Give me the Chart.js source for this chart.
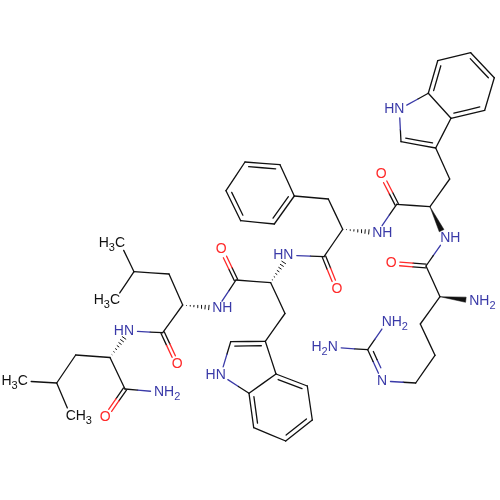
<!DOCTYPE html>
<html>
<head>
<meta charset="utf-8">
<style>
  html, body { margin: 0; padding: 0; background: #fff; }
  #mol { display: block; }
</style>
<script src="https://cdn.jsdelivr.net/npm/chart.js@4"></script>
</head>
<body>
<canvas id="mol" width="500" height="500"></canvas>
<script>
// atoms
const atomX = [428.3,437.7,470.7,494.3,484.7,451,435.7,401,399.3,449.7,430,396.7,381.3,377.3,445.3,426,391.3,440,474.3,420.3,435,415.7,382,367.7,386.7,332.7,
  245,280,294.3,274.3,240.7,226,328.3,342.7,324,337,288.3,
  270.7,236,221.3,217.3,285,265.3,230.7,220.7,249,276,307.3,312.3,285.7,253.7,
  182.7,169,134,120,115,162.7,177.3,129,
  110,75.7,56.7,22.7,70.7,125,105.3,159];
const atomY = [93.3,60.7,52.7,77.7,110.3,118.3,148,141.7,109.3,179,206.7,204.3,174.3,232.7,238.3,266,263.3,296.7,300.7,324,355.3,383,381,349.7,322,347.3,
  162,164.7,196,224,220.7,190.7,199,229.3,256.7,288.7,255.3,
  282.7,280,249.3,308.3,313.5,341.3,341.7,375,393.3,374,386,420,441,427.7,
  305,274,271.7,242.7,300,332.7,364.3,331,
  357.5,355,383,381,415.7,389,417.3,392];
const atomLabel = {8:'HN',12:'O',13:'NH',14:'NH',16:'O',18:'NH2',22:'N',24:'NH2',25:'H2N',
  35:'O',36:'HN',39:'O',40:'NH',44:'HN',54:'H3C',55:'H3C',57:'O',58:'HN',62:'H3C',63:'CH3',65:'O',66:'NH2'};

// bonds: from, to, kind (s single, d double, w wedge, h hash)
const bondFrom = [0,1,2,3,4,5,5,0,7,6,6,9,10,11,11,10,14,15,15,17,17,19,20,21,22,23,23,
  26,27,28,29,30,31,28,32,33,33,34,34,37,
  37,38,38,37,41,42,42,43,44,45,45,46,47,48,49,
  51,51,52,53,53,51,56,56,59,59,60,61,61,59,64,64];
const bondTo = [1,2,3,4,5,0,6,8,8,7,9,10,11,12,13,14,15,16,17,18,19,20,21,22,23,24,25,
  27,28,29,30,31,26,32,33,34,13,35,36,36,
  38,39,40,41,42,43,46,44,45,46,50,47,48,49,50,
  40,52,53,54,55,56,57,58,60,64,61,62,63,58,65,66];
const bondKind = ['d','s','d','s','d','s','s','s','s','d','s','s','s','d','s','w','s','d','s','w','s','s','s','s','d','s','s',
  'd','s','d','s','d','s','s','s','s','h','d','s','h',
  's','d','s','s','s','d','s','s','s','s','d','d','s','d','s',
  'h','s','s','s','s','s','d','s','s','s','s','s','s','h','d','s'];
// which atom an off-centre double bond leans towards (-1 keeps it centred)
const bondToward = {0:3,2:0,4:0,9:5,13:-1,17:-1,24:21,
  27:29,29:31,31:27,37:-1,
  41:-1,45:44,50:47,51:48,53:50,61:-1,69:-1};

const BLACK = '#111111', BLUE = '#3a3aa8', RED = '#ff2a2a';
const TRIM = 8.5, DOUBLE_GAP = 4.4, PAIR_GAP = 1.8, WEDGE_W = 2.6, HASH_STEPS = 7;

function atomColor(i) {
  const t = atomLabel[i];
  if (!t) return BLACK;
  if (t === 'O') return RED;
  return t.includes('N') ? BLUE : BLACK;
}

function bondEnds(a, b) {
  let x0 = atomX[a], y0 = atomY[a], x1 = atomX[b], y1 = atomY[b];
  const len = Math.hypot(x1 - x0, y1 - y0);
  const ux = (x1 - x0) / len, uy = (y1 - y0) / len;
  if (atomLabel[a]) { x0 += ux * TRIM; y0 += uy * TRIM; }
  if (atomLabel[b]) { x1 -= ux * TRIM; y1 -= uy * TRIM; }
  return { x0, y0, x1, y1, ux, uy };
}

function lineSet(x0, y0, x1, y1, c0, c1) {
  const mid = { x: (x0 + x1) / 2, y: (y0 + y1) / 2 };
  return {
    data: [{ x: x0, y: y0 }, mid, { x: x1, y: y1 }],
    showLine: true,
    pointRadius: 0,
    borderWidth: 1.3,
    borderColor: c0,
    borderCapStyle: 'round',
    segment: { borderColor: ctx => ctx.p0DataIndex === 0 ? c0 : c1 }
  };
}

const datasets = [];
bondFrom.forEach((a, i) => {
  const b = bondTo[i], kind = bondKind[i];
  const e = bondEnds(a, b);
  const c0 = atomColor(a), c1 = atomColor(b);
  const nx = -e.uy, ny = e.ux;
  if (kind === 's') {
    datasets.push(lineSet(e.x0, e.y0, e.x1, e.y1, c0, c1));
  } else if (kind === 'd') {
    const t = bondToward[i];
    if (t === -1) {
      datasets.push(lineSet(e.x0 + nx * PAIR_GAP, e.y0 + ny * PAIR_GAP, e.x1 + nx * PAIR_GAP, e.y1 + ny * PAIR_GAP, c0, c1));
      datasets.push(lineSet(e.x0 - nx * PAIR_GAP, e.y0 - ny * PAIR_GAP, e.x1 - nx * PAIR_GAP, e.y1 - ny * PAIR_GAP, c0, c1));
    } else {
      const side = ((atomX[t] - atomX[a]) * nx + (atomY[t] - atomY[a]) * ny) > 0 ? 1 : -1;
      const ox = nx * side * DOUBLE_GAP, oy = ny * side * DOUBLE_GAP;
      const cut = 4;
      datasets.push(lineSet(e.x0, e.y0, e.x1, e.y1, c0, c1));
      datasets.push(lineSet(e.x0 + ox + e.ux * cut, e.y0 + oy + e.uy * cut, e.x1 + ox - e.ux * cut, e.y1 + oy - e.uy * cut, c0, c1));
    }
  } else if (kind === 'w') {
    datasets.push({
      data: [{ x: e.x0, y: e.y0 }, { x: e.x1 + nx * WEDGE_W, y: e.y1 + ny * WEDGE_W }, { x: e.x1 - nx * WEDGE_W, y: e.y1 - ny * WEDGE_W }, { x: e.x0, y: e.y0 }],
      showLine: true, pointRadius: 0, borderWidth: 0.5, borderColor: BLACK, backgroundColor: BLACK, fill: 'shape'
    });
  } else {
    const pts = [];
    const len = Math.hypot(e.x1 - e.x0, e.y1 - e.y0);
    for (let k = 1; k <= HASH_STEPS; k++) {
      const d = len * k / HASH_STEPS, w = WEDGE_W * k / HASH_STEPS;
      const cx = e.x0 + e.ux * d, cy = e.y0 + e.uy * d;
      pts.push({ x: cx + nx * w, y: cy + ny * w }, { x: cx - nx * w, y: cy - ny * w }, { x: NaN, y: NaN });
    }
    datasets.push({ data: pts, showLine: true, spanGaps: false, pointRadius: 0, borderWidth: 1, borderColor: BLACK });
  }
});

const atomText = {
  id: 'atomText',
  afterDatasetsDraw(chart) {
    const c = chart.ctx, xs = chart.scales.x, ys = chart.scales.y;
    const big = '14px "Liberation Sans", Arial, sans-serif', small = '11px "Liberation Sans", Arial, sans-serif';
    c.save();
    c.textBaseline = 'middle';
    c.textAlign = 'left';
    Object.keys(atomLabel).forEach(key => {
      const i = +key, text = atomLabel[i];
      const chars = text.split('');
      const heavy = chars.findIndex(ch => ch === 'N' || ch === 'O' || ch === 'C');
      const widths = chars.map(ch => { c.font = /\d/.test(ch) ? small : big; return c.measureText(ch).width; });
      let px = xs.getPixelForValue(atomX[i]) - widths[heavy] / 2;
      for (let k = 0; k < heavy; k++) px -= widths[k];
      const py = ys.getPixelForValue(atomY[i]);
      c.fillStyle = atomColor(i);
      chars.forEach((ch, k) => {
        const sub = /\d/.test(ch);
        c.font = sub ? small : big;
        c.fillText(ch, px, py + (sub ? 5 : 0));
        px += widths[k];
      });
    });
    c.restore();
  }
};

new Chart(document.getElementById('mol'), {
  type: 'scatter',
  data: { datasets },
  plugins: [atomText],
  options: {
    responsive: false,
    animation: false,
    layout: { padding: 0 },
    plugins: { legend: { display: false }, tooltip: { enabled: false } },
    scales: {
      x: { type: 'linear', min: 0, max: 500, display: false },
      y: { type: 'linear', min: 0, max: 500, reverse: true, display: false }
    }
  }
});
</script>
</body>
</html>
